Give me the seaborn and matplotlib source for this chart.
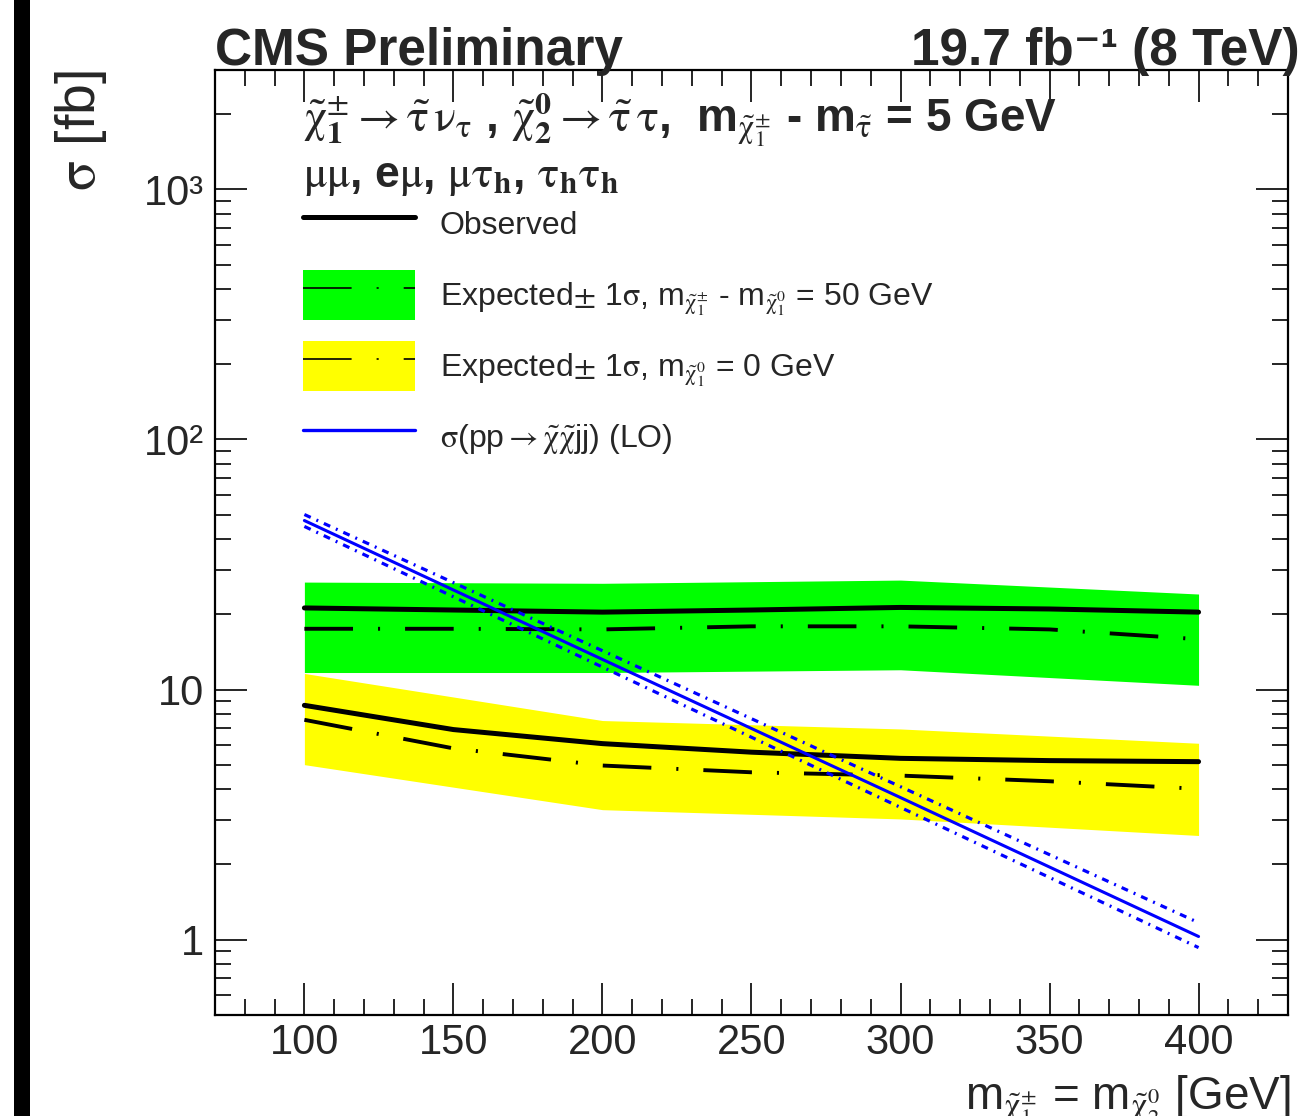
import numpy as np
import matplotlib
matplotlib.use('Agg')
import matplotlib.pyplot as plt
import seaborn as sns
from matplotlib.lines import Line2D
from matplotlib.patches import Patch, Rectangle
from matplotlib.legend_handler import HandlerTuple
from matplotlib.ticker import MultipleLocator, LogLocator, FixedLocator, FuncFormatter, NullFormatter

# values
mass = [100, 150, 200, 250, 300, 350, 400]
band_mass = [100, 200, 300, 400]

# m(chi1+-) - m(chi1^0) = 50 GeV
obs_50 = [21.2, 20.8, 20.4, 20.8, 21.3, 21.0, 20.4]
exp_50 = [17.5, 17.5, 17.4, 17.9, 17.9, 17.4, 15.9]
exp_50_lo = [11.7, 11.7, 12.0, 10.4]
exp_50_hi = [26.9, 26.6, 27.4, 24.1]

# m(chi1^0) = 0 GeV
obs_0 = [8.65, 6.92, 6.08, 5.62, 5.31, 5.20, 5.15]
exp_0 = [7.57, 5.82, 4.97, 4.67, 4.53, 4.30, 4.01]
exp_0_lo = [5.01, 3.31, 3.04, 2.61]
exp_0_hi = [11.6, 7.52, 6.96, 6.10]

# LO cross section with its uncertainty
xsec = [47.4, 13.2, 3.70, 1.03]
xsec_up = [50.1, 14.3, 4.09, 1.17]
xsec_dn = [44.9, 12.3, 3.38, 0.93]

legend_labels = [
    "Observed",
    r"Expected$\pm$ 1$\sigma$, m$_{\tilde{\chi}^{\pm}_{1}}$ - m$_{\tilde{\chi}^{0}_{1}}$ = 50 GeV",
    r"Expected$\pm$ 1$\sigma$, m$_{\tilde{\chi}^{0}_{1}}$ = 0 GeV",
    r"$\sigma$(pp$\rightarrow\tilde{\chi}\tilde{\chi}$jj) (LO)",
]

sns.set_style("ticks")
plt.rcParams['font.family'] = ['Liberation Sans', 'DejaVu Sans']
plt.rcParams['mathtext.fontset'] = 'stix'
plt.rcParams['mathtext.default'] = 'rm'
plt.rcParams['lines.scale_dashes'] = False

GREEN = '#00ff00'
YELLOW = '#ffff00'
dashdot = (0, (35, 18, 1.5, 18))
blue_dd = (0, (5, 4.5, 1.4, 4.5))

fig = plt.figure(figsize=(13.06, 11.16), dpi=100)
ax = fig.add_axes([0.1646, 0.0905, 0.8216, 0.8468])

# bands
ax.fill_between(band_mass, exp_50_lo, exp_50_hi, color=GREEN, lw=0, zorder=1)
ax.fill_between(band_mass, exp_0_lo, exp_0_hi, color=YELLOW, lw=0, zorder=1)

# expected / observed limits
sns.lineplot(x=mass, y=exp_50, ax=ax, color='black', lw=2.8, linestyle=dashdot, zorder=2)
sns.lineplot(x=mass, y=obs_50, ax=ax, color='black', lw=3.6, zorder=3)
sns.lineplot(x=mass, y=exp_0, ax=ax, color='black', lw=2.8, linestyle=dashdot, zorder=2)
sns.lineplot(x=mass, y=obs_0, ax=ax, color='black', lw=3.6, zorder=3)

# cross section
sns.lineplot(x=band_mass, y=xsec_up, ax=ax, color='blue', lw=2.3, linestyle=blue_dd, zorder=4)
sns.lineplot(x=band_mass, y=xsec_dn, ax=ax, color='blue', lw=2.3, linestyle=blue_dd, zorder=4)
sns.lineplot(x=band_mass, y=xsec, ax=ax, color='blue', lw=2.2, zorder=5)

ax.set_yscale('log')
ax.set_xlim(70, 430)
ax.set_ylim(0.5, 3000)

ax.xaxis.set_major_locator(MultipleLocator(50))
ax.xaxis.set_minor_locator(MultipleLocator(10))
ax.yaxis.set_major_locator(FixedLocator([1, 10, 100, 1000]))
ax.yaxis.set_minor_locator(LogLocator(base=10, subs=np.arange(2, 10)))
ax.yaxis.set_minor_formatter(NullFormatter())
ylabels = {1: "1", 10: "10", 100: "10²", 1000: "10³"}
ax.yaxis.set_major_formatter(FuncFormatter(lambda v, p: ylabels.get(int(round(v)), "")))

ax.tick_params(which='both', direction='in', top=True, right=True, width=1.2, color='black')
ax.tick_params(which='major', length=23, labelsize=30, pad=8)
ax.tick_params(axis='x', which='major', pad=6)
ax.tick_params(which='minor', length=11.5)
for s in ax.spines.values():
    s.set_linewidth(1.6)
    s.set_color('black')
ax.set_xlabel("")
ax.set_ylabel("")

# legend
h_obs = Line2D([], [], color='black', lw=3.6)
h_g = (Patch(facecolor=GREEN, edgecolor='none'), Line2D([], [], color='black', lw=1.2, linestyle=dashdot))
h_y = (Patch(facecolor=YELLOW, edgecolor='none'), Line2D([], [], color='black', lw=1.2, linestyle=dashdot))
h_b = Line2D([], [], color='blue', lw=2.4)
ax.legend([h_obs, h_g, h_y, h_b], legend_labels,
          handler_map={tuple: HandlerTuple(ndivide=1, pad=0)},
          loc='upper left', bbox_to_anchor=(0.082, 0.8635), borderaxespad=0, borderpad=0,
          frameon=False, fontsize=23, handlelength=3.5, handleheight=2.03,
          handletextpad=0.78, labelspacing=0.66)

# header inside the frame
ax.text(0.082, 0.947,
        r"$\tilde{\chi}^{\pm}_{\mathbf{1}}\rightarrow\tilde{\tau}\,\nu_{\tau}$ , "
        r"$\tilde{\chi}^{\mathbf{0}}_{\mathbf{2}}\rightarrow\tilde{\tau}\,\tau$,  "
        r"m$_{\tilde{\chi}^{\pm}_{1}}$ - m$_{\tilde{\tau}}$ = 5 GeV",
        transform=ax.transAxes, fontsize=33, fontweight='bold', va='center', ha='left')
ax.text(0.082, 0.886,
        r"$\mu\mu$, e$\mu$, $\mu\tau_{\mathbf{h}}$, $\tau_{\mathbf{h}}\tau_{\mathbf{h}}$",
        transform=ax.transAxes, fontsize=32, fontweight='bold', va='center', ha='left')

# titles and axis labels
fig.text(0.1646, 0.942, "CMS Preliminary", fontsize=37, fontweight='bold', ha='left', va='baseline')
fig.text(0.995, 0.942, "19.7 fb⁻¹ (8 TeV)", fontsize=37, fontweight='bold',
         ha='right', va='baseline')
fig.text(0.988, 1 - 1110 / 1116,
         r"m$_{\tilde{\chi}^{\pm}_{1}}$ = m$_{\tilde{\chi}^{0}_{2}}$ [GeV]",
         fontsize=33, ha='right', va='baseline')
fig.text(0.062, 0.937, r"$\sigma$ [fb]", fontsize=40, rotation=90, ha='center', va='top')

# black bar on the left edge
fig.patches.append(Rectangle((0.0107, 0), 0.0123, 1, transform=fig.transFigure,
                             facecolor='black', edgecolor='none', zorder=0))

fig.savefig('out.png', dpi=100)
